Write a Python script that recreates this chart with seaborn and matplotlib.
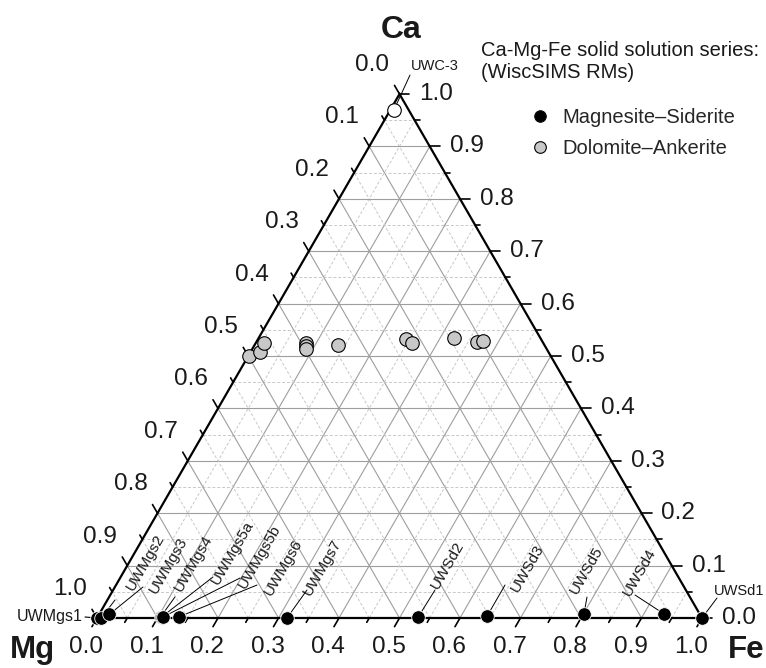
import numpy as np
import pandas as pd
import matplotlib
matplotlib.use("Agg")
import matplotlib.pyplot as plt
import seaborn as sns
from matplotlib.lines import Line2D

# ---------------------------------------------------------------
# Ca-Mg-Fe carbonate reference materials (molar fractions)
# ---------------------------------------------------------------
mgsd_names = ["UWMgs1", "UWMgs2", "UWMgs3", "UWMgs4", "UWMgs5a", "UWMgs5b",
              "UWMgs6", "UWMgs7", "UWSd2", "UWSd3", "UWSd5", "UWSd4", "UWSd1"]
mgsd_fe = [0.000, 0.007, 0.017, 0.104, 0.106, 0.108, 0.134, 0.314,
           0.530, 0.643, 0.801, 0.933, 1.000]
mgsd_ca = [0.000, 0.000, 0.007, 0.002, 0.002, 0.002, 0.002, 0.000,
           0.002, 0.004, 0.008, 0.008, 0.000]

dolank_fe = [0.001, 0.016, 0.014, 0.083, 0.086, 0.088, 0.138,
             0.244, 0.258, 0.323, 0.364, 0.374]
dolank_ca = [0.501, 0.507, 0.524, 0.525, 0.519, 0.514, 0.522,
             0.532, 0.525, 0.535, 0.527, 0.529]

calcite_names = ["UWC-3"]
calcite_fe = [0.006]
calcite_ca = [0.970]

tick_values = [0.0, 0.1, 0.2, 0.3, 0.4, 0.5, 0.6, 0.7, 0.8, 0.9, 1.0]
tick_labels = ["0.0", "0.1", "0.2", "0.3", "0.4", "0.5",
               "0.6", "0.7", "0.8", "0.9", "1.0"]

series_names = ["Magnesite\u2013Siderite", "Dolomite\u2013Ankerite"]
legend_title = ["Ca-Mg-Fe solid solution series:", "(WiscSIMS RMs)"]

# sample label layout: text centre and start of the leader line
# (cartesian triangle units, side = 1)
label_layout = {
    "UWMgs2":  ((0.0805, 0.0914), (0.0298, 0.0298)),
    "UWMgs3":  ((0.1174, 0.0876), (0.0760, 0.0512)),
    "UWMgs4":  ((0.1587, 0.0909), (0.1289, 0.0347)),
    "UWMgs5a": ((0.2248, 0.1074), (0.1917, 0.0678)),
    "UWMgs5b": ((0.2694, 0.1008), (0.2364, 0.0661)),
    "UWMgs6":  ((0.3074, 0.0843), (0.2645, 0.0545)),
    "UWMgs7":  ((0.3719, 0.0843), (0.3471, 0.0463)),
    "UWSd2":   ((0.5802, 0.0876), (0.5587, 0.0463)),
    "UWSd3":   ((0.7124, 0.0826), (0.6744, 0.0545)),
    "UWSd5":   ((0.8099, 0.0793), (0.8099, 0.0347)),
    "UWSd4":   ((0.8975, 0.0760), (0.8893, 0.0380)),
}

H = np.sqrt(3) / 2
PX = 1 / 605.0  # one pixel in triangle units


def to_xy(fe, ca):
    fe = np.asarray(fe, float)
    ca = np.asarray(ca, float)
    return fe + ca / 2, ca * H


mx, my = to_xy(mgsd_fe, mgsd_ca)
dx, dy = to_xy(dolank_fe, dolank_ca)
cx, cy = to_xy(calcite_fe, calcite_ca)

df_mgsd = pd.DataFrame({"name": mgsd_names, "x": mx, "y": my,
                        "series": series_names[0]})
df_dol = pd.DataFrame({"x": dx, "y": dy, "series": series_names[1]})
df_cal = pd.DataFrame({"name": calcite_names, "x": cx, "y": cy})

sns.set_theme(style="white")
plt.rcParams["font.family"] = ["Liberation Sans", "DejaVu Sans"]

fig = plt.figure(figsize=(7.66, 6.68), dpi=100)
ax = fig.add_axes([0, 0, 1, 1])
ax.set_xlim(-97 * PX, (766 - 97) * PX)
ax.set_ylim((618 - 668) * PX, 618 * PX)
ax.axis("off")

# ---------------- grid ----------------
major_c, minor_c = "#9e9e9e", "#c8c8c8"
for k in range(1, 20):
    v = k / 20
    major = (k % 2 == 0)
    kw = dict(color=major_c, lw=0.8, ls="-") if major else \
        dict(color=minor_c, lw=0.7, ls=(0, (3, 2)))
    # constant Ca
    ax.plot([v / 2, 1 - v / 2], [v * H, v * H], zorder=1, **kw)
    # constant Fe
    ax.plot([v, v + (1 - v) / 2], [0, (1 - v) * H], zorder=1, **kw)
    # constant Mg
    ax.plot([1 - v, (1 - v) / 2], [0, (1 - v) * H], zorder=1, **kw)

# ---------------- frame ----------------
ax.plot([0, 1, 0.5, 0], [0, 0, H, 0], color="black", lw=1.6, zorder=3,
        solid_joinstyle="miter")

# ---------------- ticks ----------------
tick_fs = 17.5
for k in range(0, 21):
    v = k / 20
    L = 10 * PX if k % 2 == 0 else 5 * PX
    # Fe (bottom) ticks point down-left
    ax.plot([v, v - 0.5 * L], [0, -H * L], color="black", lw=1.2, zorder=3)
    # Ca (right) ticks point right
    px0, py0 = 1 - v / 2, v * H
    ax.plot([px0, px0 + L], [py0, py0], color="black", lw=1.2, zorder=3)
    # Mg (left) ticks point up-left
    qx0, qy0 = (1 - v) / 2, (1 - v) * H
    ax.plot([qx0, qx0 - 0.5 * L], [qy0, qy0 + H * L], color="black",
            lw=1.2, zorder=3)

for v, lab in zip(tick_values, tick_labels):
    ax.text(v - 11 * PX, -29 * PX, lab, ha="center", va="center",
            fontsize=tick_fs, color="#1a1a1a")
    ax.text(1 - v / 2 + 20 * PX, v * H, lab, ha="left", va="center",
            fontsize=tick_fs, color="#1a1a1a")
    ax.text((1 - v) / 2 - 27 * PX, (1 - v) * H + 29 * PX, lab, ha="center",
            va="center", fontsize=tick_fs, color="#1a1a1a")

# apex labels
ax.text(0.5025, 0.9719, "Ca", ha="center", va="center", fontsize=23,
        fontweight="bold", color="#1a1a1a")
ax.text(-0.1074, -0.0530, "Mg", ha="center", va="center", fontsize=22.5,
        fontweight="bold", color="#1a1a1a")
ax.text(1.0727, -0.0530, "Fe", ha="center", va="center", fontsize=22.5,
        fontweight="bold", color="#1a1a1a")

# ---------------- sample labels & leaders ----------------
lab_fs = 11
pts = dict(zip(mgsd_names, zip(mx, my)))
for name, ((tx, ty), (lx, ly)) in label_layout.items():
    px_, py_ = pts[name]
    ax.plot([lx, px_], [ly, py_], color="black", lw=0.7, zorder=4)
    ax.text(tx, ty, name, rotation=60, rotation_mode="anchor", ha="center",
            va="center", fontsize=lab_fs, color="#1a1a1a")

# UWMgs1, UWSd1 and UWC-3 read horizontally
p1 = pts["UWMgs1"]
ax.plot([-12 * PX, p1[0]], [1 * PX, p1[1]], color="black", lw=0.8, zorder=4)
ax.text(-14 * PX, 1 * PX, "UWMgs1", ha="right", va="center",
        fontsize=11.5, color="#1a1a1a")
pd1 = pts["UWSd1"]
ax.plot([1 + 15 * PX, pd1[0]], [20 * PX, pd1[1]], color="black", lw=0.7,
        zorder=4)
ax.text(1 + 12 * PX, 27 * PX, "UWSd1", ha="left", va="center",
        fontsize=10.5, color="#1a1a1a")
ax.plot([(410 - 97) * PX, cx[0]], [(618 - 75) * PX, cy[0]], color="black",
        lw=0.7, zorder=4)
ax.text((435 - 97) * PX, (618 - 66) * PX, calcite_names[0], ha="center",
        va="center", fontsize=10.5, color="#1a1a1a")

# ---------------- data ----------------
sns.scatterplot(data=df_dol, x="x", y="y", color="#c8c8c8", edgecolor="black",
                linewidth=0.8, s=95, zorder=5, ax=ax, legend=False)
sns.scatterplot(data=df_mgsd, x="x", y="y", color="black", edgecolor="white",
                linewidth=0.6, s=95, zorder=6, ax=ax, legend=False)
sns.scatterplot(data=df_cal, x="x", y="y", color="white", edgecolor="black",
                linewidth=0.8, s=95, zorder=6, ax=ax, legend=False)

# ---------------- legend ----------------
ax.text((481 - 97) * PX, (618 - 50) * PX, legend_title[0], ha="left",
        va="center", fontsize=14.5, color="#1a1a1a")
ax.text((481 - 97) * PX, (618 - 72) * PX, legend_title[1], ha="left",
        va="center", fontsize=14.5, color="#1a1a1a")
handles = [
    Line2D([], [], ls="none", marker="o", markersize=8.4,
           markerfacecolor="black", markeredgecolor="black",
           markeredgewidth=0.6),
    Line2D([], [], ls="none", marker="o", markersize=8.4,
           markerfacecolor="#c8c8c8", markeredgecolor="black",
           markeredgewidth=0.8),
]
fig.legend(handles, series_names, loc="upper left",
           bbox_to_anchor=(530 / 766, 1 - 108 / 668), frameon=False,
           fontsize=14.5, handlelength=1.0, handletextpad=0.6,
           labelspacing=0.6, borderpad=0, borderaxespad=0)

fig.savefig("out.png", dpi=100)
